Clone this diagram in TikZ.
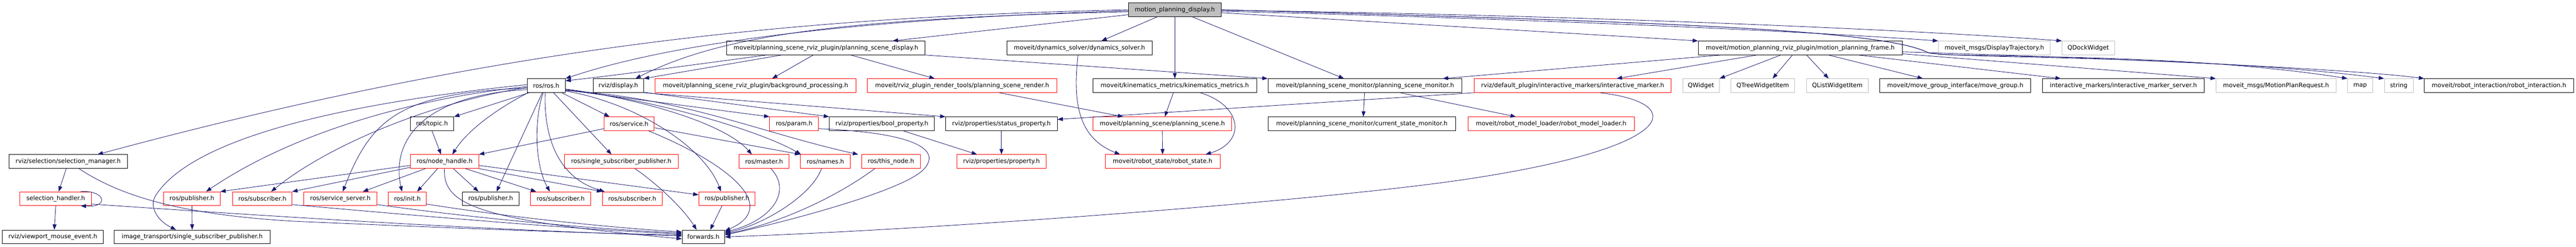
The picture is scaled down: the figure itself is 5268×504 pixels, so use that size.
\documentclass[tikz,border=0pt]{standalone}
\usepackage{fontspec}
\setmainfont{DejaVu Sans}
\usetikzlibrary{arrows.meta}
\definecolor{edgec}{RGB}{25,25,112}
\definecolor{graybd}{RGB}{191,191,191}
\definecolor{redbd}{RGB}{255,0,0}
\newcommand{\lblfont}{\fontsize{12.4pt}{14pt}\selectfont}
\tikzset{
  bx/.style={draw=black, line width=1pt, minimum height=28pt, inner xsep=2pt, inner ysep=0pt, font=\lblfont, fill=white},
  rb/.style={bx, draw=redbd},
  gb/.style={bx, draw=graybd},
  lnk/.style={draw=edgec, line width=0.9pt, -{Triangle[length=11pt,width=8pt]}},
}
\begin{document}
\begin{tikzpicture}[x=1pt,y=1pt]
\fill[white] (0,0) rectangle (5268,-504);
\useasboundingbox (0,0) rectangle (5268,-504);
% row 0
\node[bx, fill=graybd, minimum width=189pt] (mpd) at (2402.5,-20) {motion\_planning\_display.h};
% row 1
\node[bx, minimum width=406pt] (psd) at (1689,-98) {moveit/planning\_scene\_rviz\_plugin/planning\_scene\_display.h};
\node[bx, minimum width=297pt] (dyn) at (2207.5,-98) {moveit/dynamics\_solver/dynamics\_solver.h};
\node[bx, minimum width=417pt] (mpf) at (3681.5,-98) {moveit/motion\_planning\_rviz\_plugin/motion\_planning\_frame.h};
\node[gb, minimum width=229pt] (dtraj) at (4078.5,-98) {moveit\_msgs/DisplayTrajectory.h};
\node[gb, minimum width=107pt] (qdock) at (4270.5,-98) {QDockWidget};
% row 2
\node[bx, minimum width=78pt] (ros) at (1117,-175) {ros/ros.h};
\node[bx, minimum width=103pt] (disp) at (1264.5,-175) {rviz/display.h};
\node[rb, minimum width=410pt] (bgp) at (1545,-175) {moveit/planning\_scene\_rviz\_plugin/background\_processing.h};
\node[rb, minimum width=387pt] (psr) at (1967.5,-175) {moveit/rviz\_plugin\_render\_tools/planning\_scene\_render.h};
\node[bx, minimum width=335pt] (km) at (2402.5,-175) {moveit/kinematics\_metrics/kinematics\_metrics.h};
\node[bx, minimum width=397pt] (psm) at (2791.5,-175) {moveit/planning\_scene\_monitor/planning\_scene\_monitor.h};
\node[rb, minimum width=402pt] (im) at (3216,-175) {rviz/default\_plugin/interactive\_markers/interactive\_marker.h};
\node[gb, minimum width=75pt] (qw) at (3478.5,-175) {QWidget};
\node[gb, minimum width=130pt] (qtwi) at (3605,-175) {QTreeWidgetItem};
\node[gb, minimum width=127pt] (qlwi) at (3757.5,-175) {QListWidgetItem};
\node[bx, minimum width=309pt] (mg) at (3998.5,-175) {moveit/move\_group\_interface/move\_group.h};
\node[bx, minimum width=331pt] (ims) at (4342.5,-175) {interactive\_markers/interactive\_marker\_server.h};
\node[gb, minimum width=245pt] (mpr) at (4654.5,-175) {moveit\_msgs/MotionPlanRequest.h};
\node[gb, minimum width=51pt] (map) at (4826.5,-175) {map};
\node[gb, minimum width=59pt] (str) at (4905.5,-175) {string};
\node[bx, minimum width=305pt] (ri) at (5110.5,-175) {moveit/robot\_interaction/robot\_interaction.h};
% row 3
\node[bx, minimum width=89pt] (topic) at (883.5,-253) {ros/topic.h};
\node[rb, minimum width=103pt] (srv) at (1286.5,-253) {ros/service.h};
\node[rb, minimum width=100pt] (param) at (1624,-253) {ros/param.h};
\node[bx, minimum width=215pt] (bool) at (1803.5,-253) {rviz/properties/bool\_property.h};
\node[bx, minimum width=228pt] (stat) at (2048,-253) {rviz/properties/status\_property.h};
\node[rb, minimum width=284pt] (ps) at (2377,-253) {moveit/planning\_scene/planning\_scene.h};
\node[bx, minimum width=384pt] (csm) at (2785,-253) {moveit/planning\_scene\_monitor/current\_state\_monitor.h};
\node[rb, minimum width=340pt] (rml) at (3172,-253) {moveit/robot\_model\_loader/robot\_model\_loader.h};
% row 4
\node[bx, minimum width=243pt] (sm) at (139.5,-330) {rviz/selection/selection\_manager.h};
\node[rb, minimum width=140pt] (nh) at (909,-330) {ros/node\_handle.h};
\node[rb, minimum width=233pt] (rssp) at (1270.5,-330) {ros/single\_subscriber\_publisher.h};
\node[rb, minimum width=103pt] (master) at (1562.5,-330) {ros/master.h};
\node[rb, minimum width=102pt] (names) at (1688,-330) {ros/names.h};
\node[rb, minimum width=120pt] (thisn) at (1822,-330) {ros/this\_node.h};
\node[rb, minimum width=182pt] (prop) at (2048,-330) {rviz/properties/property.h};
\node[rb, minimum width=235pt] (rs) at (2377.5,-330) {moveit/robot\_state/robot\_state.h};
% row 5
\node[rb, minimum width=146pt] (sh) at (114,-406) {selection\_handler.h};
\node[rb, minimum width=115pt] (pub1) at (392.5,-406) {ros/publisher.h};
\node[rb, minimum width=121pt] (sub1) at (536.5,-406) {ros/subscriber.h};
\node[rb, minimum width=150pt] (ss) at (696,-406) {ros/service\_server.h};
\node[rb, minimum width=78pt] (init) at (833,-406) {ros/init.h};
\node[bx, minimum width=115pt] (pub2) at (1003.5,-406) {ros/publisher.h};
\node[rb, minimum width=123pt] (sub2) at (1146.5,-406) {ros/subscriber.h};
\node[rb, minimum width=122pt] (sub3) at (1293,-406) {ros/subscriber.h};
\node[rb, minimum width=115pt] (pub3) at (1486.5,-406) {ros/publisher.h};
% row 6
\node[bx, minimum width=206pt] (vme) at (108,-484) {rviz/viewport\_mouse\_event.h};
\node[bx, minimum width=320pt] (itssp) at (393,-484) {image\_transport/single\_subscriber\_publisher.h};
\node[bx, minimum width=87pt] (fwd) at (1438.5,-484) {forwards.h};

% ---- edges from motion_planning_display.h
\draw[lnk] (mpd.west) .. controls (1600,-35) and (1000,-100) .. ([xshift=60pt]sm.north);
\draw[lnk] ([yshift=-2pt]mpd.west) .. controls (1700,-40) and (1350,-95) .. (ros.north east);
\draw[lnk] ([yshift=-4pt]mpd.west) .. controls (1700,-38) and (1470,-75) .. ([xshift=-17pt]disp.north east);
\draw[lnk] ([yshift=-10pt]mpd.west) -- ([xshift=-67pt]psd.north east);
\draw[lnk] ([xshift=-36pt]mpd.south) -- ([xshift=45pt]dyn.north);
\draw[lnk] (mpd.south) -- (km.north);
\draw[lnk] ([xshift=36pt]mpd.south) -- ([xshift=-43pt]psm.north);
\draw[lnk] ([yshift=-6pt]mpd.east) -- (mpf.north west);
\draw[lnk] ([yshift=-3pt]mpd.east) .. controls (3000,-35) and (3600,-58) .. (dtraj.north west);
\draw[lnk] ([yshift=-1pt]mpd.east) .. controls (3200,-30) and (3900,-60) .. (qdock.north west);
\draw[lnk] (mpd.east) .. controls (3400,-45) and (3850,-60) .. (3944,-108) .. controls (4000,-120) and (4450,-105) .. (map.north west);
\draw[lnk] (mpd.east) .. controls (3400,-45) and (3850,-60) .. (3944,-108) .. controls (4000,-120) and (4500,-112) .. (str.north west);
% ---- motion_planning_frame.h
\draw[lnk] ([xshift=47pt]mpf.south west) -- ([xshift=-40pt]psm.north east);
\draw[lnk] ([xshift=120pt]mpf.south west) -- ([xshift=90pt]im.north);
\draw[lnk] ([xshift=169pt]mpf.south west) -- (qw.north east);
\draw[lnk] ([xshift=193pt]mpf.south west) -- ([xshift=20pt]qtwi.north);
\draw[lnk] ([xshift=222pt]mpf.south west) -- ([xshift=-18pt]qlwi.north);
\draw[lnk] ([xshift=267pt]mpf.south west) -- ([xshift=-66pt]mg.north);
\draw[lnk] ([xshift=328pt]mpf.south west) -- ([xshift=-128pt]ims.north);
\draw[lnk] ([yshift=-12pt]mpf.east) -- (mpr.north west);
\draw[lnk] ([yshift=-8pt]mpf.east) .. controls (4300,-118) and (4800,-140) .. (ri.north west);
% ---- planning_scene_display.h
\draw[lnk] ([xshift=-122pt]psd.south) .. controls (1400,-135) and (1250,-155) .. ([yshift=10pt]ros.east);
\draw[lnk] ([xshift=-91pt]psd.south) -- (disp.north east);
\draw[lnk] ([xshift=-26pt]psd.south) -- ([xshift=34pt]bgp.north);
\draw[lnk] ([xshift=51pt]psd.south) -- ([xshift=-56pt]psr.north);
\draw[lnk] (psd.south east) -- (psm.north west);
% ---- moveit core
\draw[lnk] ([xshift=-3pt]dyn.south) .. controls (2195,-200) and (2200,-280) .. ([xshift=-87pt]rs.north);
\draw[lnk] ([xshift=-3pt]km.south) -- ([xshift=5pt]ps.north);
\draw[lnk] ([xshift=52pt]km.south) .. controls (2540,-215) and (2550,-290) .. ([xshift=88pt]rs.north);
\draw[lnk] ([xshift=76pt]psr.south) -- ([xshift=-80pt]ps.north);
\draw[lnk] (ps.south) -- (rs.north);
\draw[lnk] ([xshift=-1pt]psm.south) -- ([xshift=3pt]csm.north);
\draw[lnk] ([xshift=72pt]psm.south) -- ([xshift=-72pt]rml.north);
% ---- interactive_marker.h
\draw[lnk] (im.south west) -- ([yshift=9pt]stat.east);
\draw[lnk] ([xshift=56pt]im.south) .. controls (3450,-210) and (3440,-300) .. (3000,-366) .. controls (2700,-411) and (1900,-470) .. (fwd.east);
% ---- rviz properties
\draw[lnk] ([yshift=1pt]disp.south east) -- (bool.north west);
\draw[lnk] (disp.south east) -- (stat.north west);
\draw[lnk] ([xshift=44pt]bool.south) -- ([xshift=-50pt]prop.north);
\draw[lnk] (stat.south) -- (prop.north);
% ---- param
\draw[lnk] ([yshift=-10pt]param.east) .. controls (1850,-270) and (1930,-300) .. (1890,-345) .. controls (1850,-390) and (1600,-455) .. ([yshift=4pt]fwd.east);
% ---- ros/ros.h
\draw[lnk] ([xshift=-35pt]ros.south) -- (topic.north east);
\draw[lnk] ([xshift=-37pt]ros.south) .. controls (1030,-215) and (960,-260) .. ([xshift=16pt]nh.north);
\draw[lnk] ([yshift=-5pt]ros.west) .. controls (820,-190) and (760,-240) .. ([xshift=5pt]ss.north);
\draw[lnk] ([yshift=-8pt]ros.west) .. controls (860,-195) and (800,-290) .. ([xshift=-11pt]init.north);
\draw[lnk] ([yshift=2pt]ros.west) .. controls (760,-205) and (400,-270) .. (318,-400) .. controls (305,-421) and (320,-450) .. ([xshift=-33pt]itssp.north);
\draw[lnk] ([yshift=-2pt]ros.west) .. controls (850,-200) and (600,-270) .. ([xshift=29pt]pub1.north);
\draw[lnk] ([yshift=-4pt]ros.west) .. controls (900,-205) and (680,-290) .. ([xshift=18pt]sub1.north);
\draw[lnk] ([xshift=-8pt]ros.south) -- ([xshift=12pt]pub2.north);
\draw[lnk] ([xshift=-6pt]ros.south) .. controls (1095,-230) and (1090,-330) .. ([xshift=-22pt]sub2.north);
\draw[lnk] ([xshift=-2pt]ros.south) .. controls (1112,-260) and (1130,-360) .. ([xshift=5pt]sub3.north west);
\draw[lnk] ([xshift=15pt]ros.south) -- ([xshift=-20pt]rssp.north);
\draw[lnk] ([xshift=32pt]ros.south) -- ([xshift=-40pt]srv.north);
\draw[lnk] ([yshift=-7pt]ros.east) .. controls (1300,-200) and (1480,-250) .. ([xshift=-25pt]master.north);
\draw[lnk] ([yshift=-8pt]ros.east) .. controls (1350,-205) and (1560,-270) .. ([xshift=-50pt]names.north);
\draw[lnk] ([yshift=-10pt]ros.east) .. controls (1400,-200) and (1550,-270) .. ([xshift=-67pt]thisn.north);
\draw[lnk] ([yshift=-9pt]ros.east) -- (param.north west);
\draw[lnk] ([yshift=-11pt]ros.east) .. controls (1300,-210) and (1440,-300) .. ([xshift=-12pt]pub3.north);
% ---- topic, service
\draw[lnk] (topic.south) -- ([xshift=-7pt]nh.north);
\draw[lnk] ([yshift=-10pt]srv.west) -- (nh.north east);
\draw[lnk] ([yshift=-8pt]srv.east) -- (names.north west);
\draw[lnk] ([xshift=40pt]srv.south) .. controls (1480,-330) and (1600,-420) .. ([yshift=12pt]fwd.east);
% ---- node_handle
\draw[lnk] ([yshift=-8pt]nh.west) -- (pub1.north east);
\draw[lnk] ([yshift=-12pt]nh.west) -- (sub1.north east);
\draw[lnk] ([xshift=-39pt]nh.south) -- ([xshift=46pt]ss.north);
\draw[lnk] ([xshift=-14pt]nh.south) -- ([xshift=20pt]init.north);
\draw[lnk] ([xshift=18pt]nh.south) -- ([xshift=-25pt]pub2.north);
\draw[lnk] ([xshift=43pt]nh.south) -- ([xshift=-50pt]sub2.north);
\draw[lnk] (nh.south east) -- (sub3.north west);
\draw[lnk] ([yshift=-8pt]nh.east) -- ([yshift=8pt]pub3.west);
\draw[lnk] (nh.south) .. controls (905,-420) and (980,-450) .. ([yshift=-4pt]fwd.west);
% ---- into forwards.h
\draw[lnk] ([xshift=28pt]rssp.south) .. controls (1350,-380) and (1400,-430) .. ([xshift=-14pt]fwd.north);
\draw[lnk] ([xshift=14pt]master.south) .. controls (1620,-390) and (1580,-450) .. ([yshift=10pt]fwd.east);
\draw[lnk] ([xshift=-8pt]names.south) .. controls (1660,-400) and (1560,-460) .. ([yshift=8pt]fwd.east);
\draw[lnk] ([xshift=-33pt]thisn.south) .. controls (1700,-410) and (1580,-460) .. ([yshift=6pt]fwd.east);
\draw[lnk] ([xshift=-10pt]pub3.south) -- ([xshift=14pt]fwd.north);
% ---- selection
\draw[lnk] ([xshift=-4pt]sm.south) -- ([xshift=6pt]sh.north);
\draw[lnk] ([xshift=22pt]sm.south) .. controls (260,-410) and (400,-440) .. (600,-452) .. controls (900,-465) and (1200,-477) .. ([yshift=4pt]fwd.west);
\draw[lnk] ([yshift=-11pt]sh.east) .. controls (600,-445) and (1000,-470) .. ([yshift=2pt]fwd.west);
\draw[lnk] ([xshift=51pt]sh.north) .. controls (215,-388) and (225,-424) .. ([xshift=51pt]sh.south);
\draw[lnk] (sh.south) -- ([xshift=3pt]vme.north);
\draw[lnk] (pub1.south) -- (itssp.north);
\draw[lnk] ([yshift=-12pt]sub1.east) .. controls (900,-445) and (1200,-470) .. ([yshift=6pt]fwd.west);
\draw[lnk] ([yshift=-12pt]ss.east) .. controls (1000,-450) and (1250,-470) .. ([yshift=8pt]fwd.west);
\draw[lnk] ([yshift=-11pt]init.east) .. controls (1050,-445) and (1250,-465) .. ([yshift=10pt]fwd.west);
\end{tikzpicture}
\end{document}
